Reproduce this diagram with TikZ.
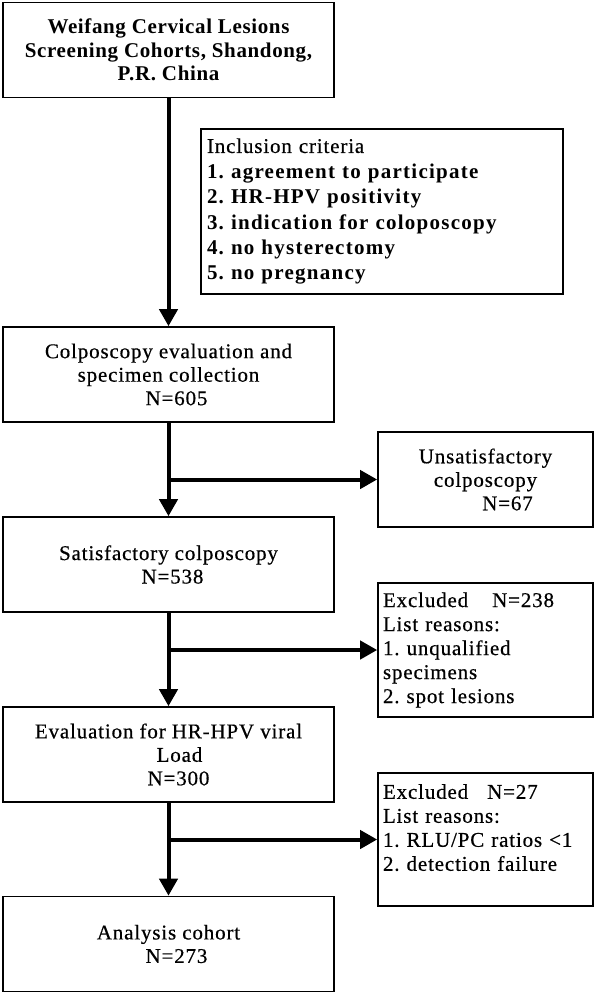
\documentclass[tikz,border=0pt]{standalone}
\usepackage{fontspec}
\setmainfont{Liberation Serif}
\newfontfamily\tf[LetterSpace=4,FakeBold=0.5]{Liberation Serif}
\newfontfamily\tfb[LetterSpace=3]{Liberation Serif}
\newfontfamily\tfi[LetterSpace=6]{Liberation Serif}
\frenchspacing
\usetikzlibrary{arrows.meta}
\tikzset{
  mainbox/.style={draw, line width=1.6pt, minimum width=331pt, minimum height=95pt,
    inner sep=0pt, align=center, font=\tf\fontsize{21}{23.5}\selectfont},
  sidebox/.style={draw, line width=1.6pt, minimum width=215pt, inner xsep=5pt, inner ysep=0pt,
    text width=205pt, align=left, font=\tf\fontsize{21}{24}\selectfont},
  unsatbox/.style={draw, line width=1.6pt, minimum width=215pt, minimum height=95pt,
    inner sep=0pt, align=center, font=\tf\fontsize{21}{23.5}\selectfont},
  inclbox/.style={draw, line width=1.6pt, minimum width=362pt, minimum height=165pt,
    inner xsep=6pt, inner ysep=0pt, text width=350pt, align=left,
    font=\tf\fontsize{21}{25.4}\selectfont},
  arr/.style={line width=4pt, -{Triangle[length=17pt,width=18pt]}}
}
\begin{document}
\begin{tikzpicture}[x=1pt,y=-1pt]
\fill[white] (0,0) rectangle (597,997);
\useasboundingbox (0,0) rectangle (597,997);

\node[mainbox, font=\tfb\bfseries\fontsize{21}{23.3}\selectfont] (b1) at (168.5,50)
  {Weifang Cervical Lesions\\Screening Cohorts, Shandong,\\P.R. China};
\node[inclbox] (inc) at (382,211.5)
  {\noindent Inclusion criteria\\
   {\tfi\bfseries 1. agreement to participate}\\
   {\tfi\bfseries 2. HR-HPV positivity}\\
   {\tfi\bfseries 3. indication for coloposcopy}\\
   {\tfi\bfseries 4. no hysterectomy}\\
   {\tfi\bfseries 5. no pregnancy}};
\node[mainbox] (b2) at (168.5,374.5)
  {Colposcopy evaluation and\\specimen collection\\\hspace*{16pt}N=605};
\node[unsatbox] (u) at (485.5,479.5)
  {Unsatisfactory\\colposcopy\\\hspace*{44pt}N=67};
\node[mainbox] (b3) at (168.5,564.5)
  {Satisfactory colposcopy\\\hspace*{8pt}N=538};
\node[sidebox, minimum height=134pt] (e1) at (485.5,650)
  {\noindent Excluded\hspace{24pt}N=238\\List reasons:\\1. unqualified\\specimens\\2. spot lesions};
\node[mainbox] (b4) at (168.5,754.5)
  {Evaluation for HR-HPV viral\\\hspace*{22pt}Load\\\hspace*{20pt}N=300};
\node[sidebox, minimum height=133pt] (e2) at (485.5,839.5)
  {\noindent Excluded\hspace{19pt}N=27\\List reasons:\\1. RLU/PC ratios {<}1\\2. detection failure\\\mbox{}};
\node[mainbox] (b5) at (168.5,944)
  {Analysis cohort\\\hspace*{16pt}N=273};

\draw[arr] (b1.south) -- (b2.north);
\draw[arr] (b2.south) -- (b3.north);
\draw[arr] (b2.south |- u.west) -- (u.west);
\draw[arr] (b3.south) -- (b4.north);
\draw[arr] (b3.south |- e1.west) -- (e1.west);
\draw[arr] (b4.south) -- (b5.north);
\draw[arr] (b4.south |- e2.west) -- (e2.west);
\end{tikzpicture}
\end{document}
